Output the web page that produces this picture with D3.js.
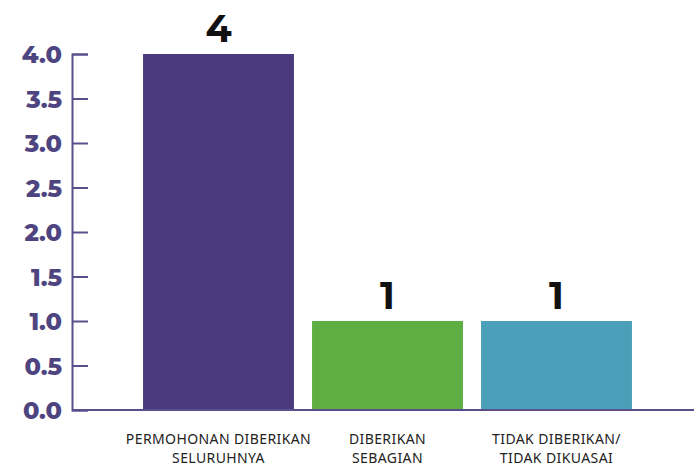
<!DOCTYPE html>
<html>
<head>
<meta charset="utf-8">
<script src="https://cdn.jsdelivr.net/npm/d3@7"></script>
<style>
  body { margin: 0; background: #fff; }
  svg { display: block; }
</style>
</head>
<body>
<div id="chart"></div>
<script>
const categories = [
  ["PERMOHONAN DIBERIKAN", "SELURUHNYA"],
  ["DIBERIKAN", "SEBAGIAN"],
  ["TIDAK DIBERIKAN/", "TIDAK DIKUASAI"]
];
const values = [4, 1, 1];
const colors = ["#4b3a7e", "#5eae43", "#4b9fb8"];
const yTicks = [0, 0.5, 1, 1.5, 2, 2.5, 3, 3.5, 4];

const width = 694, height = 468;
const axisColor = "#5b4e8c";

const svg = d3.select("#chart").append("svg")
  .attr("width", width)
  .attr("height", height);

const keys = categories.map((c) => c.join(" "));

const x = d3.scaleBand()
  .domain(keys)
  .range([134, 641])
  .paddingInner(0.107)
  .paddingOuter(0.0535);

const y = d3.scaleLinear()
  .domain([0, 4])
  .range([410, 54]);

// bars
svg.selectAll(".bar")
  .data(values)
  .enter()
  .append("rect")
  .attr("class", "bar")
  .attr("x", (d, i) => x(keys[i]))
  .attr("y", (d) => y(d))
  .attr("width", x.bandwidth())
  .attr("height", (d) => y(0) - y(d))
  .attr("fill", (d, i) => colors[i]);

// value labels
svg.selectAll(".val")
  .data(values)
  .enter()
  .append("text")
  .attr("class", "val")
  .attr("x", (d, i) => x(keys[i]) + x.bandwidth() / 2)
  .attr("y", (d) => y(d) - 12)
  .attr("text-anchor", "middle")
  .style("font-family", "Montserrat, 'Noto Sans', sans-serif")
  .style("font-weight", 700)
  .style("font-size", "38px")
  .style("fill", "#111")
  .text((d) => d);

// y axis
const yAxis = d3.axisRight(y)
  .tickValues(yTicks)
  .tickSize(16)
  .tickFormat(d3.format(".1f"));

const gy = svg.append("g")
  .attr("transform", "translate(72,0)")
  .call(yAxis);

gy.select(".domain").attr("stroke", axisColor).attr("stroke-width", 2);
gy.selectAll(".tick line").attr("stroke", axisColor).attr("stroke-width", 2);
gy.selectAll(".tick text")
  .attr("x", -10)
  .attr("dy", "0.36em")
  .attr("text-anchor", "end")
  .style("font-family", "Montserrat, 'Noto Sans', sans-serif")
  .style("font-weight", 800)
  .style("font-size", "24px")
  .style("fill", "#4e4580");

// baseline
svg.append("line")
  .attr("x1", 72)
  .attr("x2", width)
  .attr("y1", y(0))
  .attr("y2", y(0))
  .attr("stroke", axisColor)
  .attr("stroke-width", 2);

// category labels
const cat = svg.selectAll(".cat")
  .data(categories)
  .enter()
  .append("text")
  .attr("class", "cat")
  .attr("text-anchor", "middle")
  .style("font-family", "'Noto Sans', sans-serif")
  .style("font-size", "14px")
  .style("letter-spacing", "0.4px")
  .style("fill", "#222");

cat.selectAll("tspan")
  .data((d, i) => d.map((line) => ({ line, i })))
  .enter()
  .append("tspan")
  .attr("x", (d) => x(keys[d.i]) + x.bandwidth() / 2)
  .attr("y", (d, j) => 444 + j * 19)
  .text((d) => d.line);
</script>
</body>
</html>
